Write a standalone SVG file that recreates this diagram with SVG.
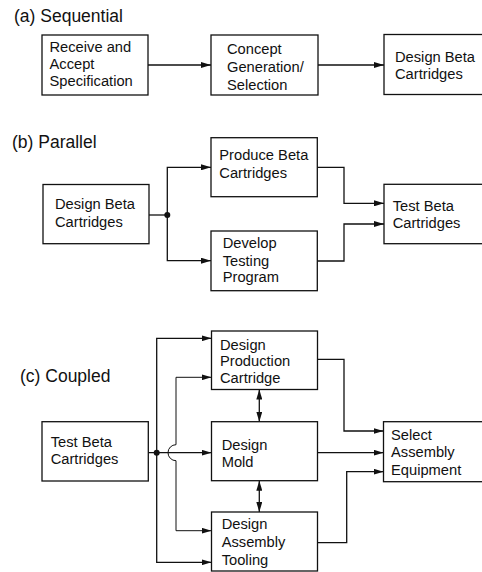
<svg xmlns="http://www.w3.org/2000/svg" width="482" height="572" viewBox="0 0 482 572">
  <style>
    .box { fill: #ffffff; stroke: #111111; stroke-width: 1.3; }
    .lbl { font-family: "Liberation Sans", Arial, sans-serif; font-size: 14.7px; fill: #111111; }
    .title { font-family: "Liberation Sans", Arial, sans-serif; font-size: 17.5px; fill: #111111; }
    .wire { fill: none; stroke: #111111; stroke-width: 1.3; }
    .arrow { marker-end: url(#head); }
    .both { marker-start: url(#head); marker-end: url(#head); }
    .thin { stroke-width: 1; }
  </style>
  <defs>
    <marker id="head" viewBox="0 0 10 6" refX="10" refY="3" markerWidth="10" markerHeight="6" markerUnits="userSpaceOnUse" orient="auto-start-reverse">
      <path d="M0,0 L10,3 L0,6 z" fill="#111111"/>
    </marker>
  </defs>
  <rect width="482" height="572" fill="#ffffff"/>

  <!-- section titles -->
  <text class="title" x="14" y="22">(a) Sequential</text>
  <text class="title" x="12" y="147.7">(b) Parallel</text>
  <text class="title" x="20" y="381.7">(c) Coupled</text>

  <!-- connectors -->
  <g id="connectors">
    <!-- (a) sequential chain -->
    <path class="wire arrow" d="M148,65 H211"/>
    <path class="wire arrow" d="M318,65 H384"/>

    <!-- (b) parallel split and merge -->
    <path class="wire" d="M149,215 H167.3"/>
    <path class="wire arrow" d="M211,167.3 H167.3 V260.7 H211" style="marker-start:url(#head)"/>
    <circle cx="167.3" cy="215" r="3" fill="#111111"/>
    <path class="wire arrow" d="M317,167.3 H344 V203.3 H384"/>
    <path class="wire arrow" d="M317,261 H344 V224 H384"/>

    <!-- (c) coupled fan-out -->
    <path class="wire arrow" d="M148,452.7 H211.5"/>
    <path class="wire both" d="M211.5,338.3 H156.7 V562.3 H211.5"/>
    <circle cx="156.7" cy="452.7" r="3" fill="#111111"/>
    <path class="wire both thin" d="M211.5,377.3 H176 V444.7 A8,8 0 0 0 176,460.7 V530.7 H211.5"/>

    <!-- (c) mutual dependencies between design tasks -->
    <path class="wire both" d="M259.3,389.5 V421.7"/>
    <path class="wire both" d="M259.3,480.7 V512"/>

    <!-- (c) merge into equipment selection -->
    <path class="wire arrow" d="M317.5,359.3 H344 V431 H383.5"/>
    <path class="wire arrow" d="M317.5,452.7 H383.5"/>
    <path class="wire arrow" d="M317.5,542.7 H346.7 V471.7 H383.5"/>
  </g>

  <!-- (a) nodes -->
  <g id="a-receive">
    <rect class="box" x="42" y="35" width="106" height="60"/>
    <text class="lbl" x="49.5" y="51.7">Receive and</text>
    <text class="lbl" x="49.5" y="69">Accept</text>
    <text class="lbl" x="49.5" y="86.3">Specification</text>
  </g>
  <g id="a-concept">
    <rect class="box" x="211" y="35" width="107" height="60"/>
    <text class="lbl" x="227" y="54.3">Concept</text>
    <text class="lbl" x="227" y="71.7">Generation/</text>
    <text class="lbl" x="227" y="89.7">Selection</text>
  </g>
  <g id="a-design-beta">
    <rect class="box" x="384" y="34.5" width="101" height="60"/>
    <text class="lbl" x="395" y="61.7">Design Beta</text>
    <text class="lbl" x="395" y="79.3">Cartridges</text>
  </g>

  <!-- (b) nodes -->
  <g id="b-design-beta">
    <rect class="box" x="43" y="184.5" width="106" height="59.2"/>
    <text class="lbl" x="55" y="209">Design Beta</text>
    <text class="lbl" x="55" y="226.7">Cartridges</text>
  </g>
  <g id="b-produce">
    <rect class="box" x="211" y="137.7" width="106.3" height="59"/>
    <text class="lbl" x="219.3" y="160">Produce Beta</text>
    <text class="lbl" x="219.3" y="178.3">Cartridges</text>
  </g>
  <g id="b-develop">
    <rect class="box" x="211" y="231" width="106.3" height="59.7"/>
    <text class="lbl" x="222.7" y="248.3">Develop</text>
    <text class="lbl" x="222.7" y="266">Testing</text>
    <text class="lbl" x="222.7" y="282.3">Program</text>
  </g>
  <g id="b-test-beta">
    <rect class="box" x="384" y="184.3" width="101" height="59.4"/>
    <text class="lbl" x="392.7" y="210.7">Test Beta</text>
    <text class="lbl" x="392.7" y="228.3">Cartridges</text>
  </g>

  <!-- (c) nodes -->
  <g id="c-test-beta">
    <rect class="box" x="42" y="421.7" width="106.3" height="59.3"/>
    <text class="lbl" x="50.7" y="446.7">Test Beta</text>
    <text class="lbl" x="50.7" y="464">Cartridges</text>
  </g>
  <g id="c-production-cartridge">
    <rect class="box" x="211.5" y="331" width="106" height="58.5"/>
    <text class="lbl" x="220" y="349.5">Design</text>
    <text class="lbl" x="220" y="366">Production</text>
    <text class="lbl" x="220" y="383">Cartridge</text>
  </g>
  <g id="c-mold">
    <rect class="box" x="211.5" y="421.7" width="106" height="59"/>
    <text class="lbl" x="221.7" y="450">Design</text>
    <text class="lbl" x="221.7" y="466.7">Mold</text>
  </g>
  <g id="c-assembly-tooling">
    <rect class="box" x="211.5" y="512" width="106" height="59"/>
    <text class="lbl" x="221.7" y="529.3">Design</text>
    <text class="lbl" x="221.7" y="547">Assembly</text>
    <text class="lbl" x="221.7" y="565">Tooling</text>
  </g>
  <g id="c-assembly-equipment">
    <rect class="box" x="383.5" y="421.7" width="101" height="60"/>
    <text class="lbl" x="391" y="440">Select</text>
    <text class="lbl" x="391" y="456.7">Assembly</text>
    <text class="lbl" x="391" y="475">Equipment</text>
  </g>
</svg>
